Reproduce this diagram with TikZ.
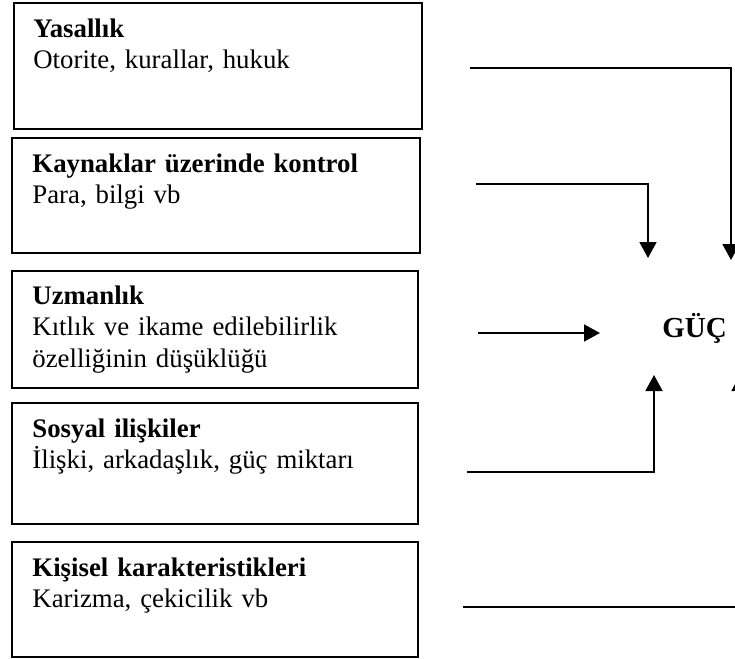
\documentclass[tikz,border=0pt]{standalone}
\usepackage{fontspec}
\setmainfont{Liberation Serif}
\usetikzlibrary{positioning,arrows.meta}

\begin{document}
\begin{tikzpicture}[
    x=0.5pt, y=-0.5pt,
    box/.style={rectangle, draw=black, line width=0.9pt, anchor=north west, inner sep=0pt},
    txt/.style={anchor=base west, inner sep=0pt, text width=190pt, align=left,
        font=\fontsize{13.4}{15.75}\selectfont},
    ok/.style={line width=0.9pt, -{Triangle[width=8.5pt,length=8pt]}},
    cizgi/.style={line width=0.9pt}
]
\clip (0,0) rectangle (735,659);
\fill[white] (0,0) rectangle (735,659);

% kutular
\node [box, minimum width=204pt, minimum height=63pt] (Yasal) at (13,2) {};
\node [box, minimum width=204pt, minimum height=57.5pt] (Kaynak) at (11,137) {};
\node [box, minimum width=203pt, minimum height=58.5pt] (Uzman) at (11,270) {};
\node [box, minimum width=203pt, minimum height=60.5pt] (Sosyal) at (11,402) {};
\node [box, minimum width=203pt, minimum height=57.5pt] (Kisisel) at (11,541) {};

\node [txt] (YasalT) at ([shift={(20,35)}]Yasal.north west)
    {\textbf{Yasallık}\\Otorite, kurallar, hukuk};
\node [txt] (KaynakT) at ([shift={(21,35)}]Kaynak.north west)
    {\textbf{Kaynaklar üzerinde kontrol}\\Para, bilgi vb};
\node [txt] (UzmanT) at ([shift={(21,34)}]Uzman.north west)
    {\textbf{Uzmanlık}\\Kıtlık ve ikame edilebilirlik\\özelliğinin düşüklüğü};
\node [txt] (SosyalT) at ([shift={(21,35)}]Sosyal.north west)
    {\textbf{Sosyal ilişkiler}\\İlişki, arkadaşlık, güç miktarı};
\node [txt] (KisiselT) at ([shift={(21,35)}]Kisisel.north west)
    {\textbf{Kişisel karakteristikleri}\\Karizma, çekicilik vb};

\node [anchor=base west, inner sep=0pt, font=\fontsize{14.5}{17}\selectfont\bfseries]
    (Guc) at (662,337) {GÜÇ};

% oklar
\coordinate (a1) at (470,68);
\coordinate (a2) at (731,260);
\coordinate (b1) at (476,184);
\coordinate (b2) at (648,258);
\coordinate (c1) at (478,333);
\coordinate (c2) at (600,333);
\coordinate (d1) at (467,472);
\coordinate (d2) at (654,375);
\coordinate (e1) at (463,607);
\coordinate (e2) at (740,375);

\draw [ok] (a1) -| (a2);
\draw [ok] (b1) -| (b2);
\draw [ok] (c1) -- (c2);
\draw [ok] (d1) -| (d2);
\draw [ok] (e1) -| (e2);

\end{tikzpicture}
\end{document}
